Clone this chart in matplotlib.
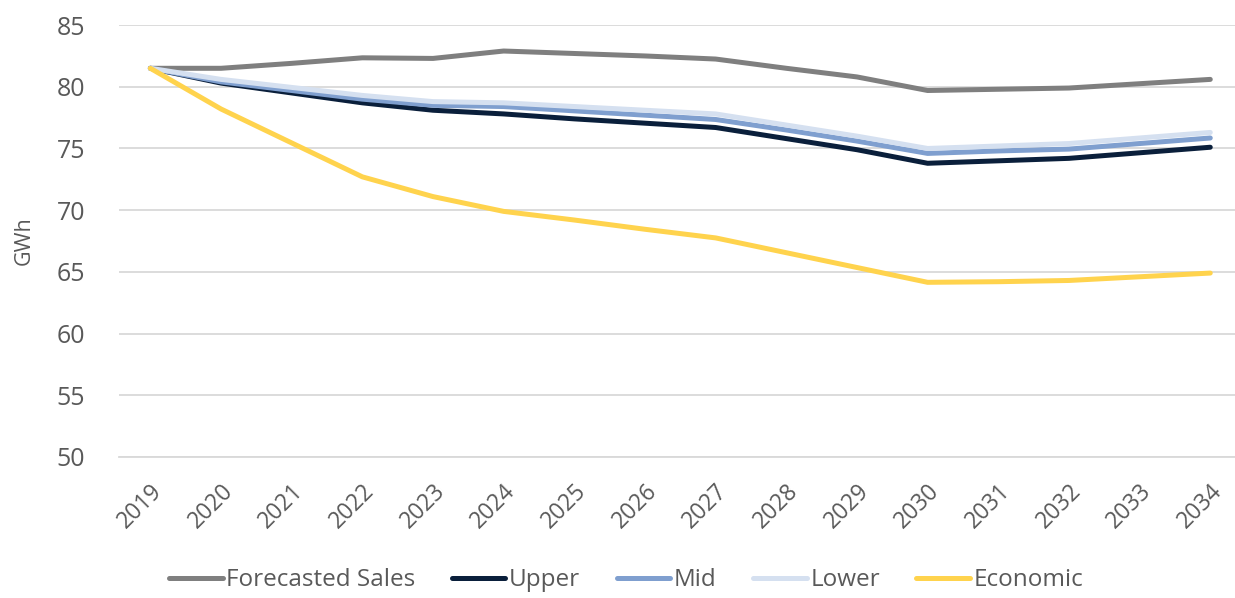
import matplotlib
matplotlib.use("Agg")
from matplotlib import pyplot as plt
import numpy as np

years = [str(y) for y in range(2019, 2035)]

forecasted = [81.5, 81.5, 81.9, 82.35, 82.3, 82.9, 82.7, 82.5, 82.25, 81.5, 80.8, 79.7, 79.8, 79.9, 80.25, 80.6]
upper = [81.5, 80.3, 79.5, 78.7, 78.1, 77.8, 77.4, 77.05, 76.7, 75.8, 74.9, 73.8, 74.0, 74.2, 74.65, 75.1]
mid = [81.5, 80.4, 79.7, 79.0, 78.5, 78.4, 78.05, 77.7, 77.35, 76.5, 75.6, 74.6, 74.8, 74.95, 75.4, 75.85]
lower = [81.5, 80.6, 79.95, 79.3, 78.8, 78.7, 78.4, 78.1, 77.8, 76.9, 76.0, 75.0, 75.2, 75.4, 75.85, 76.3]
economic = [81.5, 78.2, 75.45, 72.7, 71.1, 69.9, 69.2, 68.45, 67.75, 66.55, 65.35, 64.15, 64.2, 64.3, 64.6, 64.9]

series = [("Forecasted Sales", forecasted, "#7f7f7f"),
          ("Upper", upper, "#0a1f3b"),
          ("Mid", mid, "#7f9fcf"),
          ("Lower", lower, "#d5e0f0"),
          ("Economic", economic, "#ffd34d")]

plt.rcParams['font.family'] = ['Open Sans', 'DejaVu Sans']
txt = '#595959'

fig = plt.figure(figsize=(12.35, 5.98), dpi=100)
ax = fig.add_axes([0.096, 0.236, 0.904, 0.722])

x = np.arange(len(years))
for name, vals, col in series:
    ax.plot(x, vals, color=col, lw=3.6, label=name, solid_capstyle='round', solid_joinstyle='round')

ax.set_ylim(50, 85)
ax.set_yticks(range(50, 86, 5))
ax.set_xlim(-0.45, 15.35)
ax.set_xticks(x)
ax.set_xticklabels(years, rotation=45, ha='right', va='top', rotation_mode='anchor')
ax.tick_params(axis='x', length=0, labelsize=16.5, colors=txt, pad=16)
ax.tick_params(axis='y', length=0, labelsize=18, colors=txt, pad=24)
ax.grid(axis='y', color='#d9d9d9', lw=1.3)
ax.set_axisbelow(True)
for s in ['top', 'right', 'left']:
    ax.spines[s].set_visible(False)
ax.spines['bottom'].set_color('#d9d9d9')
ax.spines['bottom'].set_linewidth(1.3)
ax.set_ylabel('GWh', fontsize=15.5, color=txt, labelpad=16)

fig.legend(loc='center', bbox_to_anchor=(0.507, 0.03), ncol=5, frameon=False,
           fontsize=17.5, labelcolor=txt, handlelength=2.2, handletextpad=0.15, columnspacing=1.5)

fig.savefig('out.png', dpi=100)
